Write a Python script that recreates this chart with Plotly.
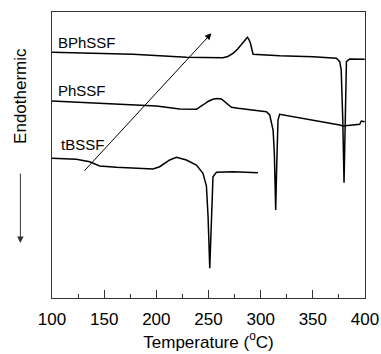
import plotly.graph_objects as go

# Temperature (°C) and heat-flow (arbitrary units)
bphssf_t = [100, 177.6, 228.8, 263.9, 268.5, 273.5, 278, 281.5, 284.5, 287.3, 288.8, 290.2, 291.5, 292.7,
            318.2, 350.2, 372.6, 375.8, 377.2, 377.9, 378.7, 379.9, 380.6, 381.0, 381.5, 382.2, 385.3, 399.7]
bphssf_v = [245.7, 243.7, 240.7, 240.3, 241.5, 244.7, 249, 253, 257, 260.7, 258.5, 254.7, 249, 243.7,
            242.3, 241.3, 239.7, 236.3, 228, 211.3, 178, 115.3, 150, 200, 226, 236.3, 239, 238.7]

phssf_t = [100, 200.1, 222.4, 238.4, 244.7, 249.5, 254.3, 258, 262.4, 265.5, 272, 278.3, 286.3, 305.5,
           308.7, 311.9, 313.1, 313.8, 314.4, 315.2, 315.5, 316.6, 318.2, 350.2, 375.8, 378.9, 388.5, 394.9,
           396.5, 399.7]
phssf_v = [197, 192, 189, 188.7, 193, 196.5, 198.7, 199.5, 199, 196.3, 190.7, 189.7, 188.7, 186.3,
           183, 168, 145, 120, 88, 125, 145, 178, 183.7, 178, 173, 172, 173, 173.7,
           177, 176.3]

tbssf_t = [100, 123.4, 136.1, 145.7, 161.7, 196.8, 203.2, 212.8, 219.2, 228.8, 238.4, 244.7, 248,
           249.6, 251.2, 252.6, 253.8, 254.3, 257.6, 273.5, 297.4]
tbssf_v = [139.7, 138.7, 136.3, 132, 130.7, 129, 131.3, 138, 140.7, 138, 133, 124.7, 112,
           81.3, 29.7, 81.3, 121.3, 121.3, 125.7, 126.3, 125.3]

series_names = ["BPhSSF", "PhSSF", "tBSSF"]
label_t = [103.5, 103.5, 106.8]
label_v = [255.7, 208, 153.5]

arrow_tail = (129.7, 125.7)
arrow_tip = (252.8, 264.7)

x_ticks = [100, 150, 200, 250, 300, 350, 400]

FONT = "Liberation Sans, Arial, Helvetica, sans-serif"

fig = go.Figure()
for t, v in [(bphssf_t, bphssf_v), (phssf_t, phssf_v), (tbssf_t, tbssf_v)]:
    fig.add_trace(go.Scatter(x=t, y=v, mode="lines",
                             line=dict(color="black", width=1.5),
                             showlegend=False, hoverinfo="skip"))

for name, lt, lv in zip(series_names, label_t, label_v):
    fig.add_annotation(x=lt, y=lv, xref="x", yref="y", text=name, showarrow=False,
                       xanchor="left", yanchor="middle",
                       font=dict(family=FONT, size=15, color="black"))

# diagonal arrow
fig.add_annotation(x=arrow_tip[0], y=arrow_tip[1], ax=arrow_tail[0], ay=arrow_tail[1],
                   xref="x", yref="y", axref="x", ayref="y", text="",
                   showarrow=True, arrowhead=2, arrowsize=1.3, arrowwidth=1,
                   arrowcolor="black")

# Endothermic label and arrow
fig.add_annotation(x=-0.101, y=0.708, xref="paper", yref="paper", text="Endothermic",
                   textangle=-90, showarrow=False, xanchor="center", yanchor="middle",
                   font=dict(family=FONT, size=17, color="black"))
fig.add_annotation(x=-0.101, y=0.192, xref="paper", yref="paper", ax=0, ay=-71,
                   axref="pixel", ayref="pixel", text="", showarrow=True,
                   arrowhead=2, arrowsize=1.3, arrowwidth=1, arrowcolor="#333")

fig.update_xaxes(range=[100, 400], tickvals=x_ticks, ticktext=[str(v) for v in x_ticks],
                 ticks="inside", ticklen=8, tickwidth=1, tickcolor="#333",
                 minor=dict(ticks="inside", ticklen=4, dtick=25, tick0=100, tickcolor="#333"),
                 showline=True, linecolor="#333", linewidth=1, mirror=True,
                 showgrid=False, zeroline=False, automargin=False, ticklabelstandoff=6,
                 tickfont=dict(family=FONT, size=17, color="black"),
                 title=dict(text="Temperature (<sup>o</sup>C)",
                            font=dict(family=FONT, size=17, color="black"), standoff=6))
fig.update_yaxes(range=[0, 286], showticklabels=False, ticks="", automargin=False,
                 showline=True, linecolor="#333", linewidth=1, mirror=True,
                 showgrid=False, zeroline=False)

fig.update_layout(width=381, height=354, margin=dict(l=52, r=16, t=12, b=56),
                  plot_bgcolor="white", paper_bgcolor="white", autosize=False)

fig.write_html("out.html",
               config={"displayModeBar": False, "responsive": False},
               post_script="document.body.style.margin='0px';document.body.style.overflow='hidden';")
